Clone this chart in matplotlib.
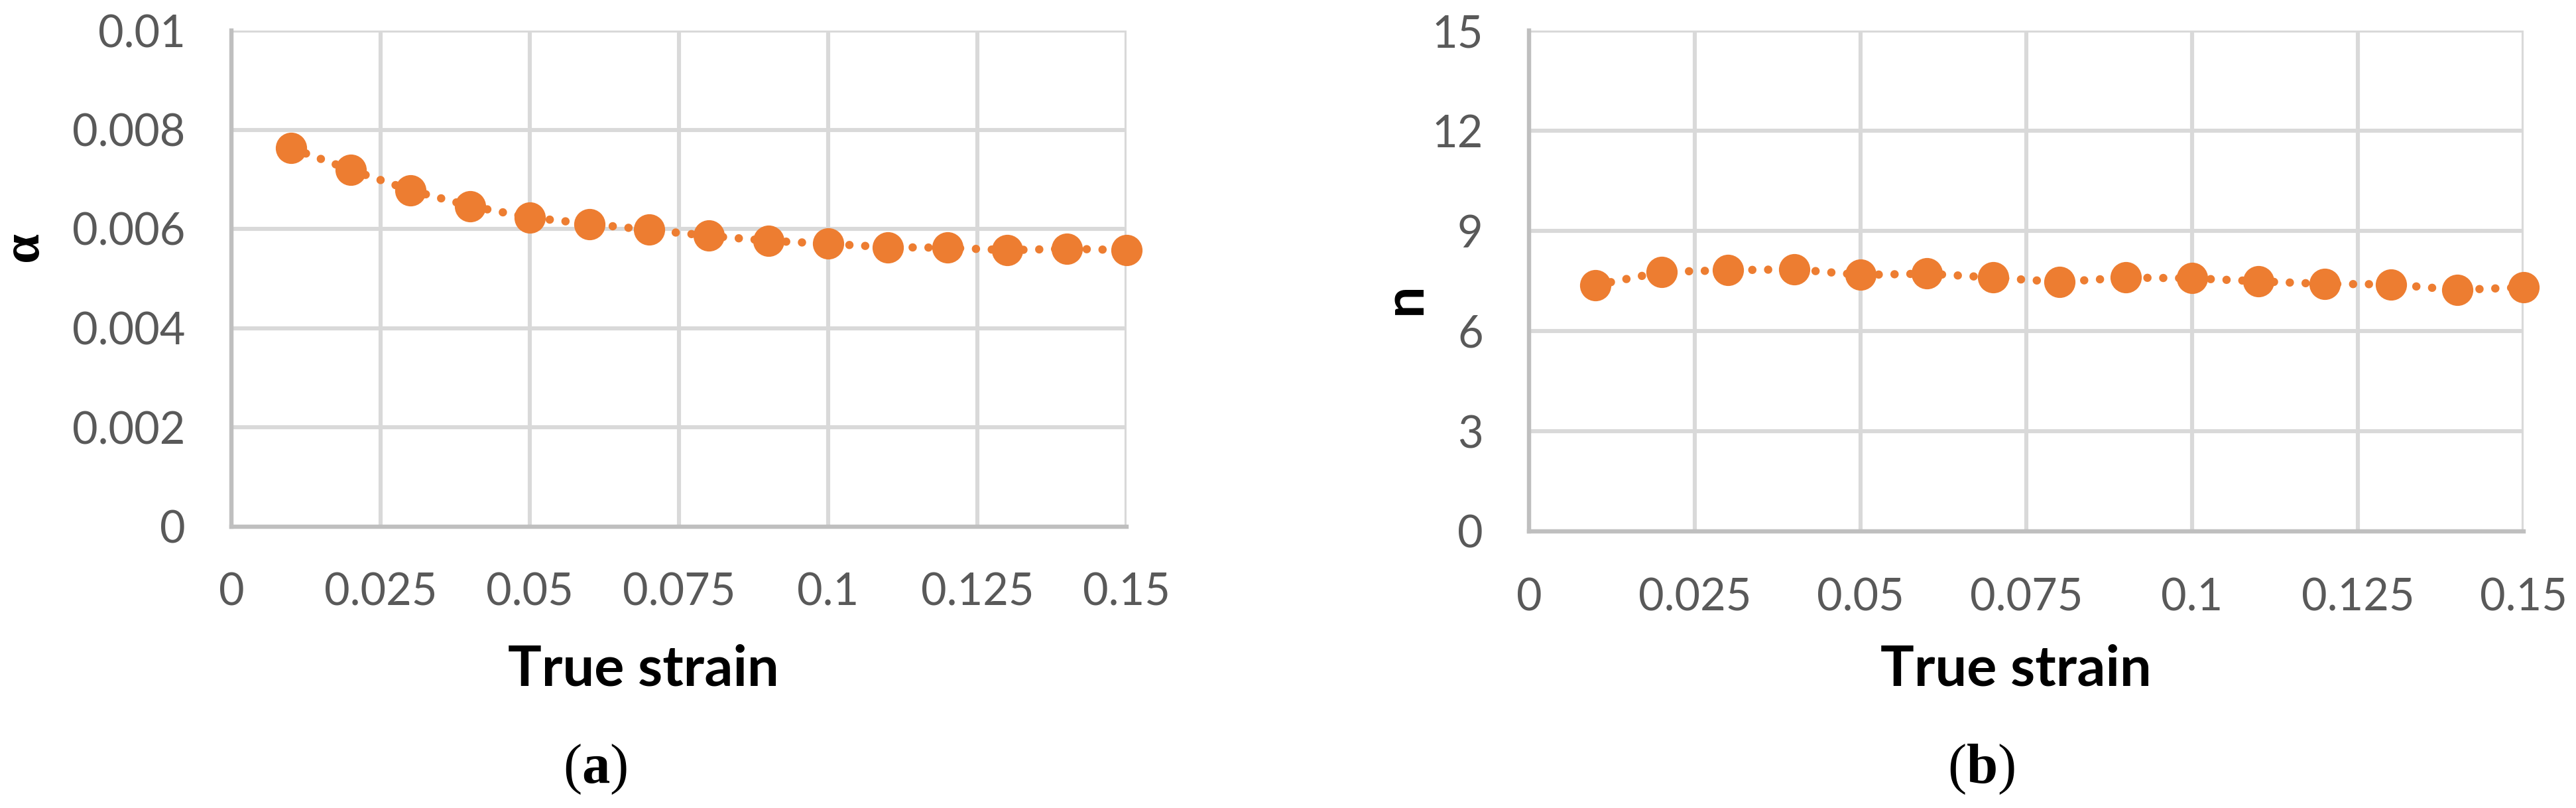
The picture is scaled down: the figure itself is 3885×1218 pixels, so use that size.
import matplotlib
matplotlib.use("Agg")
import matplotlib.pyplot as plt
from matplotlib.ticker import FixedLocator

plt.rcParams['mathtext.fontset'] = 'custom'
plt.rcParams['mathtext.rm'] = 'Liberation Serif'
plt.rcParams['mathtext.bf'] = 'Liberation Serif:bold'

# ---- data ----
strain = [0.01, 0.02, 0.03, 0.04, 0.05, 0.06, 0.07, 0.08, 0.09, 0.10,
          0.11, 0.12, 0.13, 0.14, 0.15]
alpha_vals = [0.00763, 0.00719, 0.00678, 0.00646, 0.00623, 0.00610, 0.00598,
              0.00586, 0.00576, 0.00570, 0.00563, 0.00562, 0.00557, 0.00560,
              0.00557]
n_vals = [7.37, 7.77, 7.82, 7.85, 7.68, 7.72, 7.60, 7.47, 7.60, 7.58,
          7.49, 7.41, 7.40, 7.23, 7.31]

x_ticks = [0, 0.025, 0.05, 0.075, 0.1, 0.125, 0.15]
x_ticklabels = ["0", "0.025", "0.05", "0.075", "0.1", "0.125", "0.15"]
a_ticks = [0, 0.002, 0.004, 0.006, 0.008, 0.01]
a_ticklabels = ["0", "0.002", "0.004", "0.006", "0.008", "0.01"]
n_ticks = [0, 3, 6, 9, 12, 15]
n_ticklabels = ["0", "3", "6", "9", "12", "15"]

W, H = 3885, 1218
fig = plt.figure(figsize=(W / 100, H / 100), dpi=100)

ORANGE = "#ED7D31"
GRID = "#D9D9D9"
AXIS = "#BFBFBF"
TICKC = "#595959"
TICKFONT = "Lato"


def px_rect(x0, y0, x1, y1):
    return [x0 / W, 1 - y1 / H, (x1 - x0) / W, (y1 - y0) / H]


def style(ax, yticks, yticklabels, ylim):
    ax.set_xlim(0, 0.15)
    ax.set_ylim(*ylim)
    ax.xaxis.set_major_locator(FixedLocator(x_ticks))
    ax.set_xticklabels(x_ticklabels)
    ax.yaxis.set_major_locator(FixedLocator(yticks))
    ax.set_yticklabels(yticklabels)
    ax.grid(True, color=GRID, linewidth=4.4, zorder=0)
    ax.set_axisbelow(True)
    for s in ["top", "right"]:
        ax.spines[s].set_visible(False)
    for s in ["left", "bottom"]:
        ax.spines[s].set_color(AXIS)
        ax.spines[s].set_linewidth(4.6)
        ax.spines[s].set_zorder(1)
    ax.tick_params(axis="both", length=0, labelsize=48, labelcolor=TICKC)
    ax.tick_params(axis="x", pad=50)
    ax.tick_params(axis="y", pad=50)
    for lab in ax.get_xticklabels() + ax.get_yticklabels():
        lab.set_fontfamily(TICKFONT)


def series(ax, y):
    ax.plot(strain, y, color=ORANGE, linewidth=9, linestyle=(0, (0.01, 1.9)),
            dash_capstyle="round", zorder=3, clip_on=False)
    ax.plot(strain, y, linestyle="none", marker="o", markersize=34,
            markerfacecolor=ORANGE, markeredgecolor=ORANGE, markeredgewidth=0,
            zorder=4, clip_on=False)


ax1 = fig.add_axes(px_rect(349, 46, 1699, 793.5))
series(ax1, alpha_vals)
style(ax1, a_ticks, a_ticklabels, (0, 0.01))

ax2 = fig.add_axes(px_rect(2306, 46, 3806, 801))
series(ax2, n_vals)
style(ax2, n_ticks, n_ticklabels, (0, 15))

# axis titles
fig.text(970 / W, 1 - 1033 / H, "True strain", ha="center", va="baseline",
         fontsize=61, fontweight="bold", family="Lato", color="black")
fig.text(3040 / W, 1 - 1033 / H, "True strain", ha="center", va="baseline",
         fontsize=61, fontweight="bold", family="Lato", color="black")
fig.text(37 / W, 1 - 371 / H, "α", ha="center", va="center", rotation=90,
         fontsize=58, fontweight="bold", family="Liberation Serif", color="black")
fig.text(2118 / W, 1 - 450 / H, "n", ha="center", va="center", rotation=90,
         fontsize=61, fontweight="bold", family="Lato", color="black")

# panel labels
fig.text(898 / W, 1 - 1180 / H, r"($\mathbf{a}$)", ha="center", va="baseline",
         fontsize=61, family="Liberation Serif", color="black")
fig.text(2988 / W, 1 - 1180 / H, r"($\mathbf{b}$)", ha="center", va="baseline",
         fontsize=61, family="Liberation Serif", color="black")

fig.savefig("out.png", dpi=100, facecolor="white")
